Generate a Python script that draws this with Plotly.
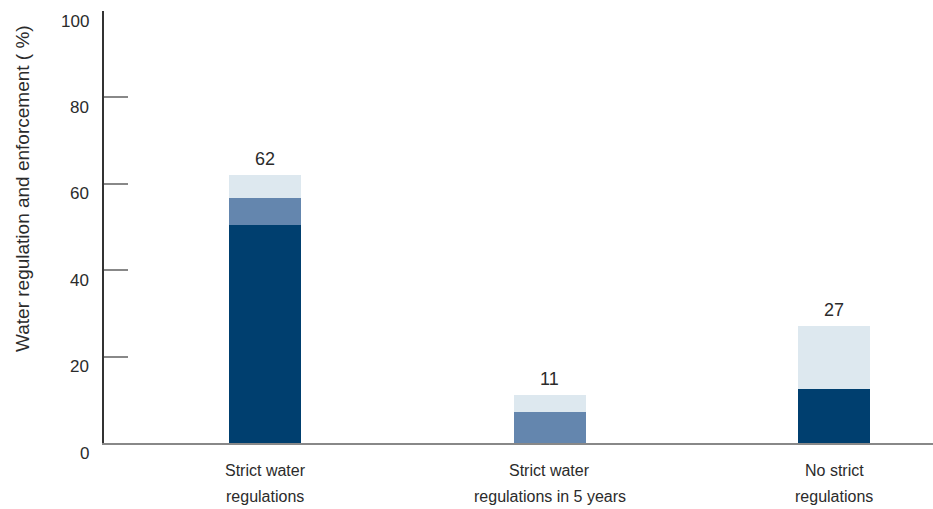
import plotly.graph_objects as go

categories = [
    ["Strict water", "regulations"],
    ["Strict water", "regulations in 5 years"],
    ["No strict", "regulations"],
]
dark_values = [50.5, 0, 12.4]
mid_values = [6.3, 7.2, 0]
light_values = [5.2, 3.8, 14.6]
totals = [62, 11, 27]
y_ticks = [0, 20, 40, 60, 80, 100]

colors = ["#003f6f", "#6486ae", "#dde8ef"]
x_pos = list(range(len(categories)))
text_color = "#2b2b2b"

fig = go.Figure()
for vals, col in zip([dark_values, mid_values, light_values], colors):
    fig.add_trace(go.Bar(
        x=x_pos, y=vals, marker=dict(color=col, line=dict(width=0)),
        width=0.253, hoverinfo="skip", showlegend=False,
    ))

# total labels above each stack
for xi, t in zip(x_pos, totals):
    fig.add_annotation(x=xi, y=t, text=str(t), showarrow=False, yanchor="bottom",
                       yshift=4, font=dict(size=18, color=text_color))

# y tick labels, set slightly below their tick marks
for v in y_ticks:
    fig.add_annotation(x=0, xref="paper", y=v, yref="y", text=str(v), showarrow=False,
                       xanchor="right", yanchor="middle", xshift=-13, yshift=-10,
                       font=dict(size=17, color=text_color))

# two-line category labels below the baseline
for xi, lines in zip(x_pos, categories):
    for k, line in enumerate(lines):
        fig.add_annotation(x=xi, y=0, yref="y", text=line, showarrow=False,
                           xanchor="center", yanchor="middle", yshift=-27 - 26 * k,
                           font=dict(size=16, color=text_color))

fig.update_layout(
    barmode="stack",
    width=933, height=509,
    margin=dict(l=104, r=0, t=11, b=66),
    plot_bgcolor="white", paper_bgcolor="white",
    font=dict(family="Liberation Sans, Arial, sans-serif", size=15, color=text_color),
    bargap=0,
)
fig.update_xaxes(
    range=[-0.566, 2.348],
    showticklabels=False,
    showline=True, linecolor="#888888", linewidth=2,
    ticks="", showgrid=False, zeroline=False,
)
fig.update_yaxes(
    range=[0, 100],
    tickvals=y_ticks, showticklabels=False,
    showline=True, linecolor="#333333", linewidth=1.5,
    ticks="inside", ticklen=24, tickcolor="#888888", tickwidth=1.5,
    showgrid=False, zeroline=False,
)
fig.add_annotation(
    x=0, xref="paper", xanchor="center", xshift=-82,
    y=0.5, yref="paper", yanchor="middle", yshift=38,
    text="Water regulation and enforcement ( %)", textangle=-90, showarrow=False,
    font=dict(size=19, color=text_color),
)

fig.write_html("out.html")
